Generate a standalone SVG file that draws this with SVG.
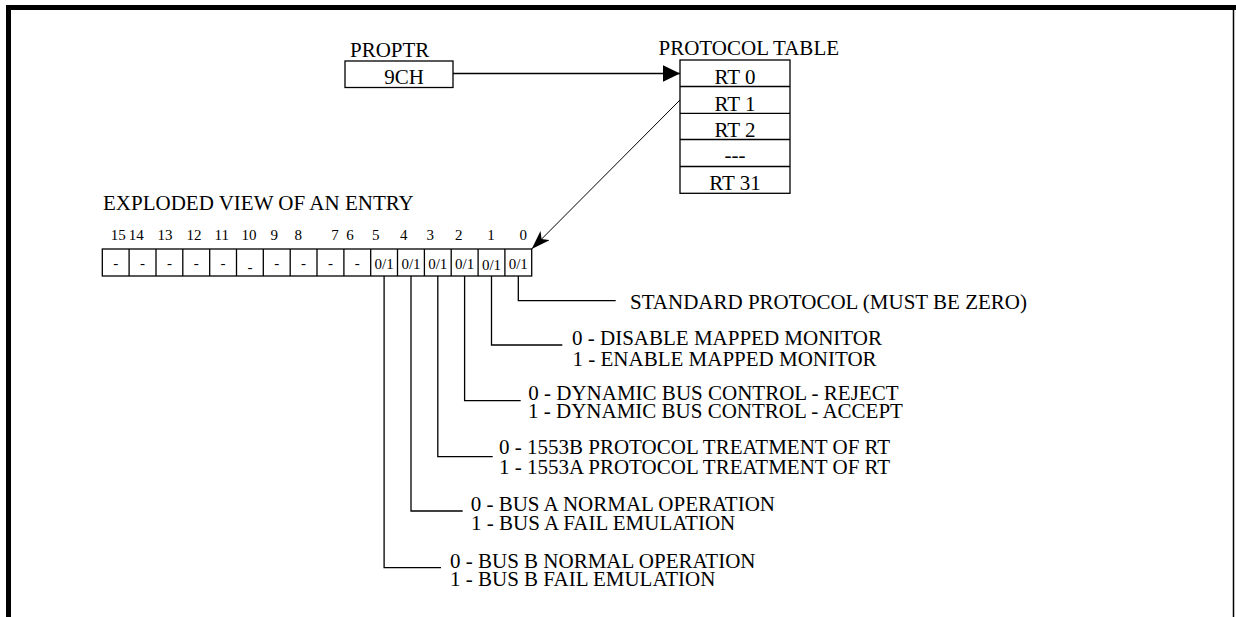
<svg xmlns="http://www.w3.org/2000/svg" width="1236" height="617" viewBox="0 0 1236 617">
<style>
text{font-family:"Liberation Serif","Times New Roman",serif;fill:#000}
.t{font-size:21px}
.s{font-size:15px}
.c{text-anchor:middle}
.box{fill:#fff;stroke:#000;stroke-width:1.3}
.ln{fill:none;stroke:#000;stroke-width:1.3}
.thin{fill:none;stroke:#000;stroke-width:1}
</style>
<defs>
<marker id="tri" markerUnits="userSpaceOnUse" markerWidth="18" markerHeight="18" refX="17" refY="8.3" orient="auto">
<path d="M0,0 L17,8.3 L0,16.6 z" fill="#000"/>
</marker>
<marker id="barb" markerUnits="userSpaceOnUse" markerWidth="20" markerHeight="14" refX="19" refY="6.5" orient="auto">
<path d="M0,0 L19,6.5 L0,13 L5,6.5 z" fill="#000"/>
</marker>
</defs>
<rect width="1236" height="617" fill="#fff"/>
<g id="frame">
<rect x="6" y="5" width="1230" height="5" fill="#000"/>
<rect x="6" y="5" width="5" height="612" fill="#000"/>
<line x1="1233.5" y1="5" x2="1233.5" y2="617" stroke="#000" stroke-width="1.5"/>
</g>
<g id="proptr">
<text class="t" x="350" y="57">PROPTR</text>
<rect class="box" x="345" y="61" width="108" height="26.5"/>
<text class="t c" x="404" y="83.5">9CH</text>
</g>
<g id="protocol-table">
<text class="t" x="658.5" y="55">PROTOCOL TABLE</text>
<rect class="box" x="680" y="60" width="110" height="133.3"/>
<line class="ln" x1="680" y1="86.5" x2="790" y2="86.5"/>
<line class="ln" x1="680" y1="113.3" x2="790" y2="113.3"/>
<line class="ln" x1="680" y1="139.5" x2="790" y2="139.5"/>
<line class="ln" x1="680" y1="166.5" x2="790" y2="166.5"/>
<text class="t c" x="735" y="83.5">RT 0</text>
<text class="t c" x="735" y="110.5">RT 1</text>
<text class="t c" x="735" y="137">RT 2</text>
<text class="t c" x="735" y="162">---</text>
<text class="t c" x="735" y="190">RT 31</text>
</g>
<g id="entry">
<text class="t" x="103" y="210">EXPLODED VIEW OF AN ENTRY</text>
<g class="s c">
<text class="s c" x="118.3" y="240">15</text>
<text class="s c" x="136.3" y="240">14</text>
<text class="s c" x="165" y="240">13</text>
<text class="s c" x="194" y="240">12</text>
<text class="s c" x="221.7" y="240">11</text>
<text class="s c" x="249" y="240">10</text>
<text class="s c" x="274.3" y="240">9</text>
<text class="s c" x="298.3" y="240">8</text>
<text class="s c" x="335" y="240">7</text>
<text class="s c" x="350" y="240">6</text>
<text class="s c" x="375.7" y="240">5</text>
<text class="s c" x="403.7" y="240">4</text>
<text class="s c" x="430.3" y="240">3</text>
<text class="s c" x="458.7" y="240">2</text>
<text class="s c" x="491" y="240">1</text>
<text class="s c" x="523.3" y="240">0</text>
</g>
<rect class="box" x="102.3" y="249" width="429.4" height="27"/>
<path class="ln" d="M129.1,249V276M156,249V276M182.8,249V276M209.7,249V276M236.5,249V276M263.3,249V276M290.2,249V276M317,249V276M343.9,249V276M370.7,249V276M397.5,249V276M424.4,249V276M451.2,249V276M478.1,249V276M504.9,249V276"/>
<text class="s c" x="115.7" y="268">-</text>
<text class="s c" x="142.5" y="268">-</text>
<text class="s c" x="169.4" y="268">-</text>
<text class="s c" x="196.2" y="268">-</text>
<text class="s c" x="223.1" y="268">-</text>
<text class="s c" x="249.9" y="272">-</text>
<text class="s c" x="276.8" y="268">-</text>
<text class="s c" x="303.6" y="268">-</text>
<text class="s c" x="330.4" y="268">-</text>
<text class="s c" x="357.3" y="268">-</text>
<text class="s c" x="384.1" y="269">0/1</text>
<text class="s c" x="411" y="269">0/1</text>
<text class="s c" x="437.8" y="269">0/1</text>
<text class="s c" x="464.6" y="269">0/1</text>
<text class="s c" x="491.5" y="270">0/1</text>
<text class="s c" x="518.3" y="269">0/1</text>
</g>
<g id="bit0-label"><text class="t" x="630" y="309">STANDARD PROTOCOL (MUST BE ZERO)</text></g>
<g id="bit1-label"><text class="t" x="572" y="345">0 - DISABLE MAPPED MONITOR</text><text class="t" x="572.5" y="366">1 - ENABLE MAPPED MONITOR</text></g>
<g id="bit2-label"><text class="t" x="528.3" y="400">0 - DYNAMIC BUS CONTROL - REJECT</text><text class="t" x="528" y="418">1 - DYNAMIC BUS CONTROL - ACCEPT</text></g>
<g id="bit3-label"><text class="t" x="499" y="453.5">0 - 1553B PROTOCOL TREATMENT OF RT</text><text class="t" x="499" y="473.5">1 - 1553A PROTOCOL TREATMENT OF RT</text></g>
<g id="bit4-label"><text class="t" x="470.7" y="510.7">0 - BUS A NORMAL OPERATION</text><text class="t" x="471" y="529.5">1 - BUS A FAIL EMULATION</text></g>
<g id="bit5-label"><text class="t" x="450" y="567.7">0 - BUS B NORMAL OPERATION</text><text class="t" x="450" y="586">1 - BUS B FAIL EMULATION</text></g>
<g id="connectors">
<line class="ln" x1="453" y1="73.5" x2="680" y2="73.5" marker-end="url(#tri)"/>
<line class="thin" x1="680" y1="100" x2="531.7" y2="249" marker-end="url(#barb)"/>
<path class="ln" d="M518.3,276V300.7H615.7"/>
<path class="ln" d="M491.5,276V345H562.3"/>
<path class="ln" d="M464.6,276V400.7H520.7"/>
<path class="ln" d="M437.8,276V456.7H492.7"/>
<path class="ln" d="M411,276V511H462.7"/>
<path class="ln" d="M384.1,276V567.7H441"/>
</g>
</svg>
